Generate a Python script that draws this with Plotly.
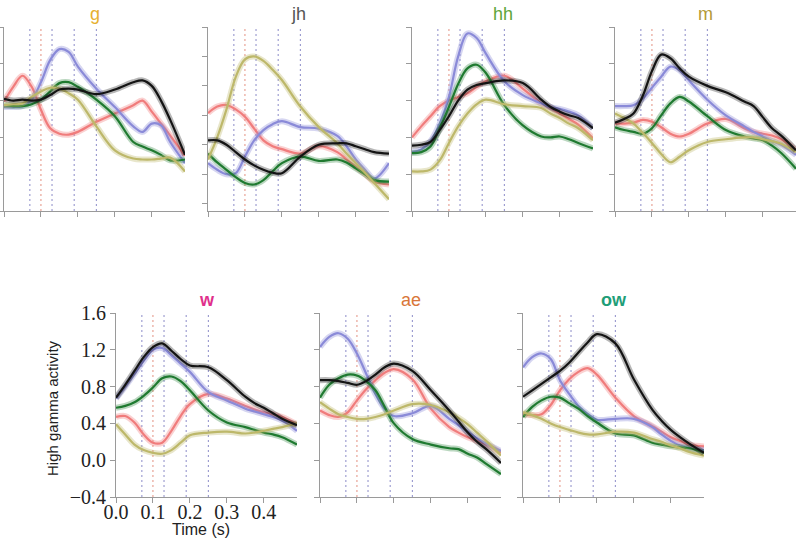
import plotly.graph_objects as go

# time samples (s)
T = [0, 0.025, 0.05, 0.075, 0.1, 0.125, 0.15, 0.175, 0.2, 0.25, 0.3, 0.35, 0.375, 0.4, 0.425, 0.45, 0.49]

# vertical marker times and their kind (b = blue, r = red)
MARK_T = [0.07, 0.10, 0.13, 0.19, 0.25]
MARK_KIND = ["b", "r", "b", "b", "b"]

XTICKS = [0.0, 0.1, 0.2, 0.3, 0.4]
YTICKS = [-0.4, 0.0, 0.4, 0.8, 1.2, 1.6]
JH_YTICKS = [-0.2, 0.0, 0.2, 0.4, 0.6, 0.8, 1.0]

# panel "g"
G_RED = [0.79, 0.95, 1.07, 0.95, 0.70, 0.50, 0.44, 0.43, 0.46, 0.57, 0.66, 0.75, 0.80, 0.68, 0.55, 0.42, 0.20]
G_BLUE = [0.73, 0.73, 0.74, 0.81, 1.00, 1.24, 1.36, 1.33, 1.17, 0.93, 0.73, 0.52, 0.46, 0.55, 0.53, 0.35, 0.12]
G_GREEN = [0.75, 0.74, 0.74, 0.76, 0.81, 0.90, 0.99, 1.00, 0.95, 0.81, 0.63, 0.35, 0.30, 0.26, 0.21, 0.15, 0.16]
G_OLIVE = [0.75, 0.76, 0.77, 0.84, 0.90, 0.94, 0.93, 0.88, 0.81, 0.52, 0.26, 0.17, 0.16, 0.16, 0.17, 0.18, 0.03]
G_BLACK = [0.82, 0.80, 0.81, 0.80, 0.81, 0.86, 0.92, 0.93, 0.92, 0.87, 0.92, 1.00, 1.02, 0.96, 0.80, 0.59, 0.21]

# panel "jh"
JH_RED = [0.415, 0.46, 0.47, 0.44, 0.39, 0.31, 0.23, 0.19, 0.17, 0.14, 0.19, 0.15, 0.10, 0.05, 0.0, -0.05, -0.07]
JH_BLUE = [0.075, 0.03, 0.0, 0.007, 0.12, 0.23, 0.30, 0.34, 0.36, 0.32, 0.31, 0.26, 0.19, 0.10, 0.03, -0.03, 0.075]
JH_GREEN = [0.14, 0.08, 0.03, -0.02, -0.06, -0.07, -0.04, 0.02, 0.075, 0.12, 0.09, 0.10, 0.08, 0.04, 0.0, -0.04, -0.05]
JH_OLIVE = [0.10, 0.25, 0.44, 0.66, 0.78, 0.80, 0.77, 0.71, 0.64, 0.46, 0.32, 0.21, 0.14, 0.075, 0.01, -0.06, -0.17]
JH_BLACK = [0.23, 0.23, 0.20, 0.15, 0.10, 0.06, 0.03, 0.01, 0.007, 0.12, 0.20, 0.21, 0.21, 0.19, 0.17, 0.15, 0.14]

# panel "hh"
HH_RED = [0.40, 0.52, 0.63, 0.74, 0.80, 0.84, 0.88, 0.95, 1.01, 1.07, 0.93, 0.77, 0.72, 0.66, 0.60, 0.54, 0.39]
HH_BLUE = [0.24, 0.27, 0.36, 0.55, 0.84, 1.28, 1.53, 1.48, 1.31, 1.01, 0.86, 0.77, 0.73, 0.71, 0.68, 0.64, 0.50]
HH_GREEN = [0.23, 0.24, 0.30, 0.50, 0.73, 0.98, 1.15, 1.19, 1.10, 0.75, 0.53, 0.41, 0.40, 0.41, 0.38, 0.34, 0.28]
HH_OLIVE = [0.03, 0.03, 0.05, 0.15, 0.34, 0.52, 0.66, 0.76, 0.81, 0.76, 0.74, 0.72, 0.66, 0.61, 0.55, 0.50, 0.37]
HH_BLACK = [0.31, 0.32, 0.35, 0.48, 0.63, 0.80, 0.92, 0.97, 0.99, 1.02, 0.99, 0.81, 0.73, 0.68, 0.64, 0.61, 0.50]

# panel "m"
M_RED = [0.55, 0.55, 0.56, 0.59, 0.57, 0.51, 0.44, 0.41, 0.44, 0.55, 0.60, 0.50, 0.46, 0.44, 0.42, 0.38, 0.26]
M_BLUE = [0.74, 0.74, 0.75, 0.82, 0.94, 1.06, 1.17, 1.13, 1.02, 0.81, 0.64, 0.52, 0.46, 0.41, 0.36, 0.32, 0.21]
M_GREEN = [0.51, 0.48, 0.46, 0.44, 0.50, 0.64, 0.77, 0.84, 0.79, 0.63, 0.48, 0.41, 0.39, 0.37, 0.31, 0.23, 0.06]
M_OLIVE = [0.66, 0.61, 0.55, 0.45, 0.34, 0.22, 0.13, 0.19, 0.26, 0.35, 0.38, 0.40, 0.40, 0.38, 0.36, 0.33, 0.24]
M_BLACK = [0.56, 0.60, 0.66, 0.85, 1.12, 1.30, 1.26, 1.15, 1.06, 0.96, 0.89, 0.79, 0.74, 0.62, 0.50, 0.42, 0.26]

# panel "w"
W_RED = [0.47, 0.48, 0.41, 0.28, 0.19, 0.19, 0.32, 0.48, 0.61, 0.72, 0.67, 0.59, 0.55, 0.52, 0.50, 0.47, 0.39]
W_BLUE = [0.67, 0.80, 0.94, 1.08, 1.20, 1.22, 1.14, 1.05, 0.96, 0.74, 0.65, 0.56, 0.53, 0.50, 0.47, 0.43, 0.32]
W_GREEN = [0.57, 0.59, 0.63, 0.70, 0.79, 0.89, 0.91, 0.86, 0.76, 0.54, 0.41, 0.36, 0.33, 0.30, 0.28, 0.25, 0.17]
W_OLIVE = [0.39, 0.28, 0.17, 0.11, 0.08, 0.07, 0.11, 0.19, 0.27, 0.30, 0.31, 0.29, 0.30, 0.32, 0.34, 0.36, 0.40]
W_BLACK = [0.68, 0.82, 0.97, 1.12, 1.23, 1.27, 1.19, 1.10, 1.03, 1.01, 0.87, 0.69, 0.62, 0.57, 0.51, 0.45, 0.38]

# panel "ae"
AE_RED = [0.54, 0.49, 0.47, 0.52, 0.65, 0.77, 0.87, 0.95, 0.99, 0.88, 0.56, 0.36, 0.30, 0.25, 0.21, 0.17, 0.08]
AE_BLUE = [1.23, 1.34, 1.38, 1.32, 1.16, 0.94, 0.72, 0.56, 0.48, 0.51, 0.59, 0.45, 0.38, 0.31, 0.24, 0.18, 0.10]
AE_GREEN = [0.68, 0.82, 0.89, 0.93, 0.92, 0.86, 0.76, 0.58, 0.40, 0.23, 0.17, 0.13, 0.12, 0.07, 0.03, -0.04, -0.15]
AE_OLIVE = [0.63, 0.56, 0.50, 0.47, 0.45, 0.45, 0.47, 0.50, 0.54, 0.61, 0.60, 0.52, 0.46, 0.39, 0.30, 0.21, 0.05]
AE_BLACK = [0.87, 0.87, 0.86, 0.84, 0.82, 0.86, 0.93, 1.01, 1.05, 0.97, 0.76, 0.54, 0.42, 0.30, 0.20, 0.12, -0.03]

# panel "ow"
OW_RED = [0.50, 0.49, 0.50, 0.60, 0.76, 0.88, 0.96, 1.00, 0.93, 0.68, 0.48, 0.37, 0.31, 0.25, 0.21, 0.17, 0.15]
OW_BLUE = [1.01, 1.12, 1.16, 1.10, 0.87, 0.72, 0.59, 0.50, 0.44, 0.45, 0.45, 0.36, 0.28, 0.21, 0.16, 0.13, 0.11]
OW_GREEN = [0.47, 0.58, 0.65, 0.69, 0.68, 0.62, 0.56, 0.48, 0.41, 0.29, 0.27, 0.19, 0.17, 0.15, 0.14, 0.13, 0.08]
OW_OLIVE = [0.52, 0.49, 0.45, 0.40, 0.36, 0.33, 0.30, 0.28, 0.28, 0.31, 0.30, 0.23, 0.20, 0.16, 0.13, 0.09, 0.05]
OW_BLACK = [0.69, 0.76, 0.83, 0.90, 0.97, 1.06, 1.17, 1.28, 1.37, 1.27, 0.88, 0.55, 0.43, 0.33, 0.25, 0.18, 0.08]

LINE_COLORS = {
    "red": ("#f07c7c", "rgba(240,124,124,0.35)"),
    "blue": ("#8a8ad8", "rgba(138,138,216,0.35)"),
    "green": ("#1f7a30", "rgba(31,122,48,0.3)"),
    "olive": ("#bdb86a", "rgba(189,184,106,0.35)"),
    "black": ("#141414", "rgba(20,20,20,0.3)"),
}
MARK_COLORS = {"b": "#8c8cc8", "r": "#e39080"}

# name, title colour, bold title, curves, y range, y ticks, (left px, top px)
PANELS = [
    ("g", "#e6b030", False, [G_RED, G_BLUE, G_GREEN, G_OLIVE, G_BLACK], [-0.4, 1.6], YTICKS, (4, 27)),
    ("jh", "#555555", False, [JH_RED, JH_BLUE, JH_GREEN, JH_OLIVE, JH_BLACK], [-0.25, 1.0], JH_YTICKS, (208, 27)),
    ("hh", "#5ea63a", False, [HH_RED, HH_BLUE, HH_GREEN, HH_OLIVE, HH_BLACK], [-0.4, 1.6], YTICKS, (412, 27)),
    ("m", "#b39a36", False, [M_RED, M_BLUE, M_GREEN, M_OLIVE, M_BLACK], [-0.4, 1.6], YTICKS, (615, 27)),
    ("w", "#e0308c", True, [W_RED, W_BLUE, W_GREEN, W_OLIVE, W_BLACK], [-0.4, 1.6], YTICKS, (116, 313)),
    ("ae", "#d9773a", False, [AE_RED, AE_BLUE, AE_GREEN, AE_OLIVE, AE_BLACK], [-0.4, 1.6], YTICKS, (320, 313)),
    ("ow", "#1f9e78", True, [OW_RED, OW_BLUE, OW_GREEN, OW_OLIVE, OW_BLACK], [-0.4, 1.6], YTICKS, (523, 313)),
]

W, H = 800, 544
PW, PH = 181, 184
AXIS_GRAY = "#9a9a9a"

fig = go.Figure()
layout = {}
annotations = []

for i, (name, tcolor, bold, curves, yrange, yticks, (left, top)) in enumerate(PANELS, start=1):
    xa = "x" if i == 1 else f"x{i}"
    ya = "y" if i == 1 else f"y{i}"
    labelled = name == "w"

    for key, vals in zip(["red", "blue", "green", "olive", "black"], curves):
        main, band = LINE_COLORS[key]
        fig.add_trace(go.Scatter(
            x=T, y=vals, mode="lines", xaxis=xa, yaxis=ya,
            line=dict(color=band, width=6, shape="spline", smoothing=1.0),
            hoverinfo="skip", showlegend=False,
        ))
        fig.add_trace(go.Scatter(
            x=T, y=vals, mode="lines", xaxis=xa, yaxis=ya,
            line=dict(color=main, width=2.2, shape="spline", smoothing=1.0),
            showlegend=False,
        ))

    for t, kind in zip(MARK_T, MARK_KIND):
        fig.add_shape(
            type="line", xref=xa, yref=f"{ya} domain",
            x0=t, x1=t, y0=0, y1=1, layer="below",
            line=dict(color=MARK_COLORS[kind], width=1, dash="2px,3px"),
        )

    common = dict(
        showline=True, linecolor=AXIS_GRAY, linewidth=1,
        ticks="outside", ticklen=5, tickcolor=AXIS_GRAY, tickwidth=1,
        showgrid=False, zeroline=False, showticklabels=labelled,
        tickfont=dict(family="Liberation Serif", size=20, color="#222"),
        tickformat=".1f", automargin=False,
    )
    layout[f"xaxis{i}"] = dict(
        domain=[left / W, (left + PW) / W], range=[0, 0.49],
        tickvals=XTICKS, anchor=ya, ticklabelstandoff=-8, **common,
    )
    layout[f"yaxis{i}"] = dict(
        domain=[1 - (top + PH) / H, 1 - top / H], range=yrange,
        tickvals=yticks, anchor=xa, **common,
    )

    annotations.append(dict(
        text=f"<b>{name}</b>" if bold else name, xref="paper", yref="paper",
        x=(left + PW / 2) / W, y=1 - (top - 13) / H,
        xanchor="center", yanchor="middle", showarrow=False,
        font=dict(family="Liberation Sans", size=18, color=tcolor),
    ))

annotations.append(dict(
    text="High gamma activity", xref="paper", yref="paper",
    x=52 / W, y=1 - 408 / H, textangle=-90, showarrow=False,
    xanchor="center", yanchor="middle",
    font=dict(family="Liberation Sans", size=15, color="#222"),
))
annotations.append(dict(
    text="Time (s)", xref="paper", yref="paper",
    x=201 / W, y=1 - 529 / H, showarrow=False,
    xanchor="center", yanchor="middle",
    font=dict(family="Liberation Sans", size=16, color="#222"),
))

fig.update_layout(
    **layout,
    annotations=annotations,
    width=W, height=H,
    margin=dict(l=0, r=0, t=0, b=0, autoexpand=False),
    plot_bgcolor="white", paper_bgcolor="white",
    showlegend=False,
)

# the page body has a default 8px margin; drop it so the figure fills the window
fig.write_html(
    "out.html",
    config={"displayModeBar": False},
    post_script="document.body.style.margin='0';",
)
